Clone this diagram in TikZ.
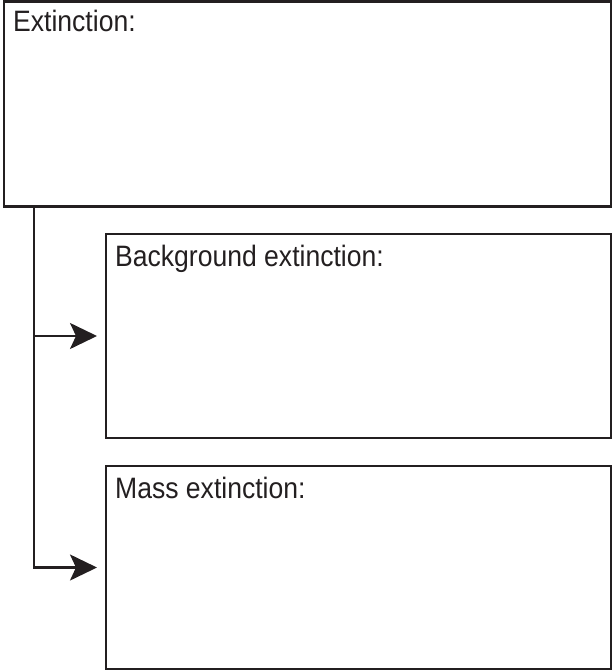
\documentclass[tikz,border=0pt]{standalone}
\usepackage{fontspec}
\setmainfont[FakeStretch=0.9]{Liberation Sans}
\usetikzlibrary{arrows.meta}
\definecolor{ink}{HTML}{231F20}

\tikzset{
  box/.style={draw=ink, line width=2.2bp, anchor=north west, outer sep=0pt, inner sep=0pt},
  head/.style={anchor=base west, inner sep=0pt, text=ink, font=\fontsize{29.5bp}{32bp}\selectfont},
  link/.style={draw=ink, line width=2.2bp, -{Stealth[length=27bp, width=26bp, inset=6bp]}, shorten >=9bp}
}

\begin{document}
\begin{tikzpicture}[x=1bp, y=-1bp]
    \useasboundingbox (0,0) rectangle (612,671);

    % boxes
    \node[box, minimum width=607bp, minimum height=205bp] (ext) at (4,1.5) {};
    \node[box, minimum width=505bp, minimum height=204bp] (bg) at (106,234) {};
    \node[box, minimum width=505bp, minimum height=203bp] (mass) at (106,466) {};

    % headings
    \node[head] (exttxt) at ([xshift=9bp, yshift=-30.5bp]ext.north west) {Extinction:};
    \node[head] (bgtxt) at ([xshift=9bp, yshift=-32bp]bg.north west) {Background extinction:};
    \node[head] (masstxt) at ([xshift=9bp, yshift=-32bp]mass.north west) {Mass extinction:};

    % connectors
    \coordinate (trunk) at (34,206);
    \draw[draw=ink, line width=2.2bp] (trunk) -- (34,336);
    \draw[link] (trunk) |- (bg.west);
    \draw[link] (trunk) |- (mass.west);
\end{tikzpicture}
\end{document}
